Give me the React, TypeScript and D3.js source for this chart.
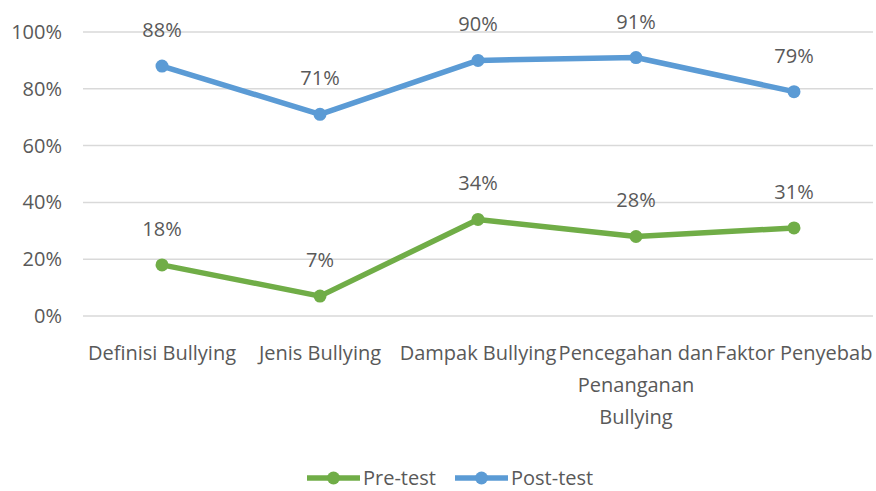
import React from "react";
import * as d3 from "d3";

const categories: string[][] = [
  ["Definisi Bullying"],
  ["Jenis Bullying"],
  ["Dampak Bullying"],
  ["Pencegahan dan", "Penanganan", "Bullying"],
  ["Faktor Penyebab"],
];
const preTest = [18, 7, 34, 28, 31];
const postTest = [88, 71, 90, 91, 79];
const yTicks = [0, 20, 40, 60, 80, 100];

const W = 876;
const H = 491;
const FONT = "'Open Sans', sans-serif";
const FS = 20;
const TXT = "#595959";
const GREEN = "#70AD47";
const BLUE = "#5B9BD5";

export default function App() {
  const x = d3.scaleBand<number>().domain(d3.range(categories.length)).range([83, 873]);
  const y = d3.scaleLinear().domain([0, 100]).range([316, 32]);
  const cx = (i: number) => (x(i) as number) + x.bandwidth() / 2;
  const line = d3
    .line<number>()
    .x((_, i) => cx(i))
    .y((d) => y(d));
  const series = [
    { name: "Pre-test", data: preTest, color: GREEN },
    { name: "Post-test", data: postTest, color: BLUE },
  ];
  return (
    <svg
      width={W}
      height={H}
      style={{ position: "absolute", left: 0, top: 0, background: "#fff" }}
      fontFamily={FONT}
    >
      {yTicks.map((t) => (
        <g key={t}>
          <line x1={83} x2={873} y1={y(t)} y2={y(t)} stroke="#d9d9d9" strokeWidth={1.5} />
          <text x={62} y={y(t)} dy="0.35em" textAnchor="end" fontSize={FS} fill={TXT}>
            {t}%
          </text>
        </g>
      ))}
      {categories.map((lines, i) =>
        lines.map((l, j) => (
          <text
            key={i + "-" + j}
            x={cx(i)}
            y={360 + j * 32}
            textAnchor="middle"
            fontSize={FS}
            fill={TXT}
          >
            {l}
          </text>
        ))
      )}
      {series.map((s) => (
        <g key={s.name}>
          <path d={line(s.data) || ""} fill="none" stroke={s.color} strokeWidth={5.5} strokeLinejoin="round" strokeLinecap="round" />
          {s.data.map((d, i) => (
            <circle key={i} cx={cx(i)} cy={y(d)} r={6.5} fill={s.color} />
          ))}
          {s.data.map((d, i) => (
            <text key={"l" + i} x={cx(i)} y={y(d) - 29} textAnchor="middle" fontSize={FS} fill={TXT}>
              {d}%
            </text>
          ))}
        </g>
      ))}
      {series.map((s, k) => {
        const x0 = k === 0 ? 307 : 455;
        return (
          <g key={"lg" + s.name}>
            <line x1={x0} x2={x0 + 53} y1={478} y2={478} stroke={s.color} strokeWidth={5.5} />
            <circle cx={x0 + 26.5} cy={478} r={6.5} fill={s.color} />
            <text x={x0 + 56} y={478} dy="0.35em" fontSize={FS} fill={TXT}>
              {s.name}
            </text>
          </g>
        );
      })}
    </svg>
  );
}
